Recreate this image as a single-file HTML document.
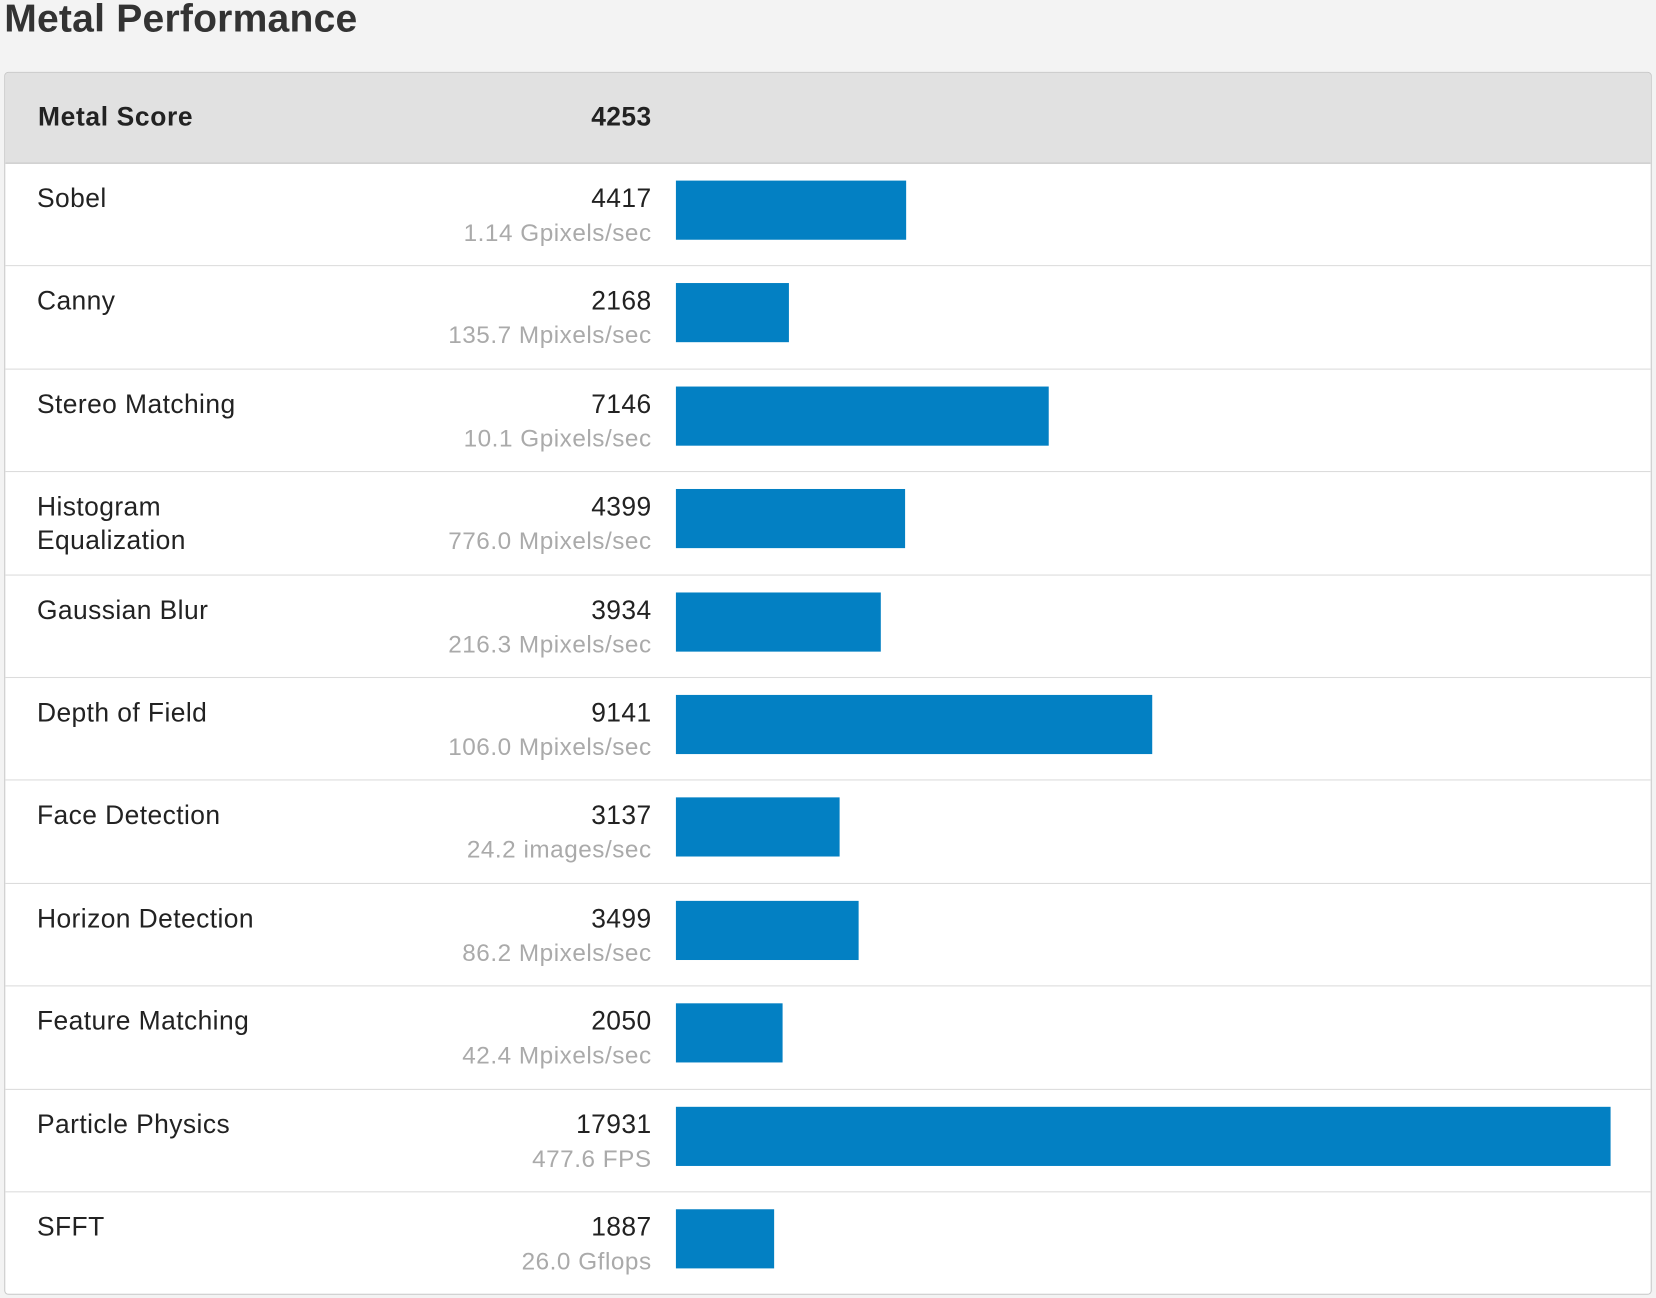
<!DOCTYPE html>
<html><head><meta charset="utf-8">
<style>
html,body{margin:0;padding:0;width:1656px;height:1298px;overflow:hidden;background:#f3f3f3;}
#wrap{position:absolute;left:0;top:0;width:1568px;height:1229px;transform:scale(1.05612);transform-origin:0 0;font-family:"Liberation Sans",Arial,sans-serif;}
h1{position:absolute;left:4px;top:-3px;margin:0;font-size:37px;font-weight:bold;color:#333;letter-spacing:0.2px;}
#panel{position:absolute;left:4px;top:68px;width:1558px;height:1156px;background:#fff;border:1px solid #c8c8c8;border-radius:4px;overflow:hidden;}
#head{position:absolute;left:0;top:0;width:100%;height:85px;background:#e1e1e1;border-bottom:1px solid #c4c4c4;}
.t{position:absolute;white-space:nowrap;color:#222;font-size:25px;letter-spacing:0.4px;}
.r{text-align:right;}
.sub{color:#aaa;font-size:23px;letter-spacing:0.5px;}
.row{position:absolute;left:0;width:100%;border-bottom:1px solid #dcdcdc;}
.bar{position:absolute;background:#0380c3;height:56px;}
</style></head><body>
<div id="wrap">
<h1>Metal Performance</h1>
<div id="panel">
<div id="head">
<div class="t" style="left:31px;top:28px;font-weight:bold;letter-spacing:0.6px;">Metal Score</div>
<div class="t r" style="right:946px;top:28px;font-weight:bold;">4253</div>
</div>
</div>
</div>
<script>
const names=["Sobel","Canny","Stereo Matching","Histogram\nEqualization","Gaussian Blur","Depth of Field","Face Detection","Horizon Detection","Feature Matching","Particle Physics","SFFT"];
const scores=[4417,2168,7146,4399,3934,9141,3137,3499,2050,17931,1887];
const rates=["1.14 Gpixels/sec","135.7 Mpixels/sec","10.1 Gpixels/sec","776.0 Mpixels/sec","216.3 Mpixels/sec","106.0 Mpixels/sec","24.2 images/sec","86.2 Mpixels/sec","42.4 Mpixels/sec","477.6 FPS","26.0 Gflops"];
const panel=document.getElementById('panel');
const domainMax=Math.max(...scores)*1.01;
const x0=635, barMax=894;
const xs=v=>v/domainMax*barMax;
const top0=86, rowH=97.4;
names.forEach((n,i)=>{
  const row=document.createElement('div');
  row.className='row';
  
  
  row.style.top=(top0+i*rowH)+'px';
  row.style.height=(rowH-1)+'px';
  const nm=document.createElement('div');
  nm.className='t';
  
  
  nm.style.left='30px';nm.style.top='17px';nm.style.lineHeight='32px';
  nm.innerHTML=n.replace('\n','<br>');
  row.appendChild(nm);
  const sc=document.createElement('div');
  sc.className='t r';
  
  
  sc.style.right='946px';sc.style.top='19px';
  sc.textContent=scores[i];
  row.appendChild(sc);
  const rt=document.createElement('div');
  rt.className='t r sub';
  
  
  rt.style.right='946px';rt.style.top='52px';
  rt.textContent=rates[i];
  row.appendChild(rt);
  const b=document.createElement('div');
  b.className='bar';
  
  
  b.style.left=x0+'px';b.style.top='16px';
  b.style.width=xs(scores[i])+'px';
  row.appendChild(b);
  panel.appendChild(row);
});
</script>
</body></html>
